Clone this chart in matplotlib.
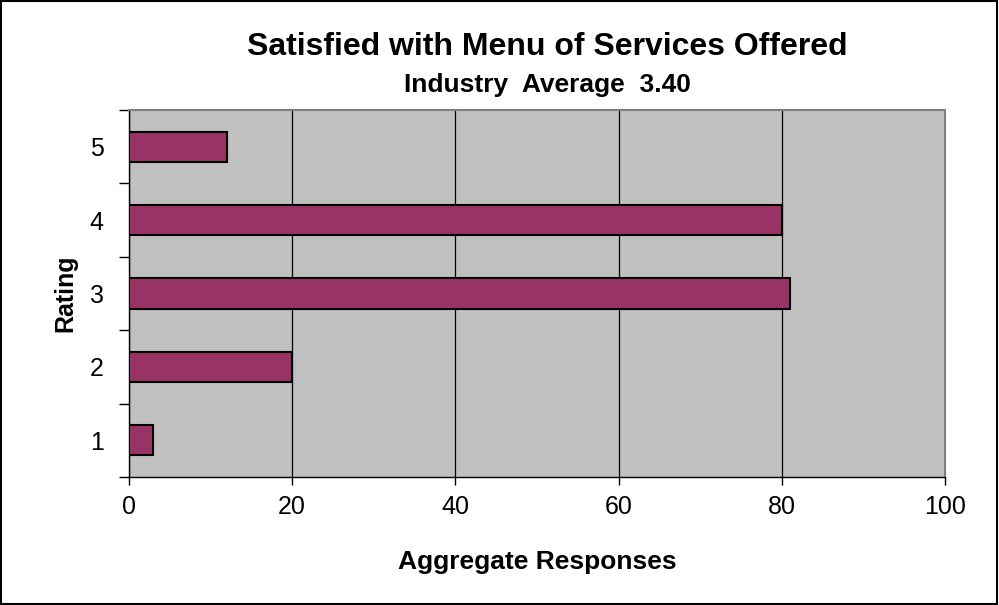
import matplotlib.pyplot as plt
from matplotlib.ticker import FixedLocator

plt.rcParams['font.family'] = ['Liberation Sans', 'DejaVu Sans']

ratings = [1, 2, 3, 4, 5]
responses = [3, 20, 81, 80, 12]
xticks = [0, 20, 40, 60, 80, 100]

fig = plt.figure(figsize=(9.99, 6.05), dpi=100)
ax = fig.add_axes([0.129, 0.2116, 0.817, 0.6066])
ax.set_facecolor('#C0C0C0')

ax.barh(ratings, responses, height=0.41, color='#993366', edgecolor='black', linewidth=1.5, zorder=3)

ax.set_xlim(0, 100)
ax.set_ylim(0.5, 5.5)
ax.set_xticks(xticks)
ax.set_yticks(ratings)
ax.yaxis.set_minor_locator(FixedLocator([0.5, 1.5, 2.5, 3.5, 4.5, 5.5]))
ax.tick_params(axis='y', which='major', length=0, pad=18, labelsize=18)
ax.tick_params(axis='y', which='minor', length=7, width=1, direction='out')
ax.tick_params(axis='x', which='major', length=6, width=1, direction='out', pad=7, labelsize=18)
ax.grid(axis='x', color='black', linewidth=0.9, zorder=1)

for side in ['top', 'right']:
    ax.spines[side].set_color('#808080')
    ax.spines[side].set_linewidth(1.5)
for side in ['left', 'bottom']:
    ax.spines[side].set_color('black')
    ax.spines[side].set_linewidth(1)

ax.set_xlabel('Aggregate Responses', fontsize=19, fontweight='bold', labelpad=22)
ax.set_ylabel('Rating', fontsize=18, fontweight='bold', labelpad=9)

fig.text(0.548, 0.922, 'Satisfied with Menu of Services Offered', ha='center', va='center',
         fontsize=23, fontweight='bold')
fig.text(0.548, 0.859, 'Industry  Average  3.40', ha='center', va='center',
         fontsize=19, fontweight='bold')

# border round the whole chart
fig.patches.append(plt.Rectangle((0.001, 0.002), 0.997, 0.996, transform=fig.transFigure,
                                 fill=False, edgecolor='black', linewidth=1.5))

fig.savefig('out.png', dpi=100)
